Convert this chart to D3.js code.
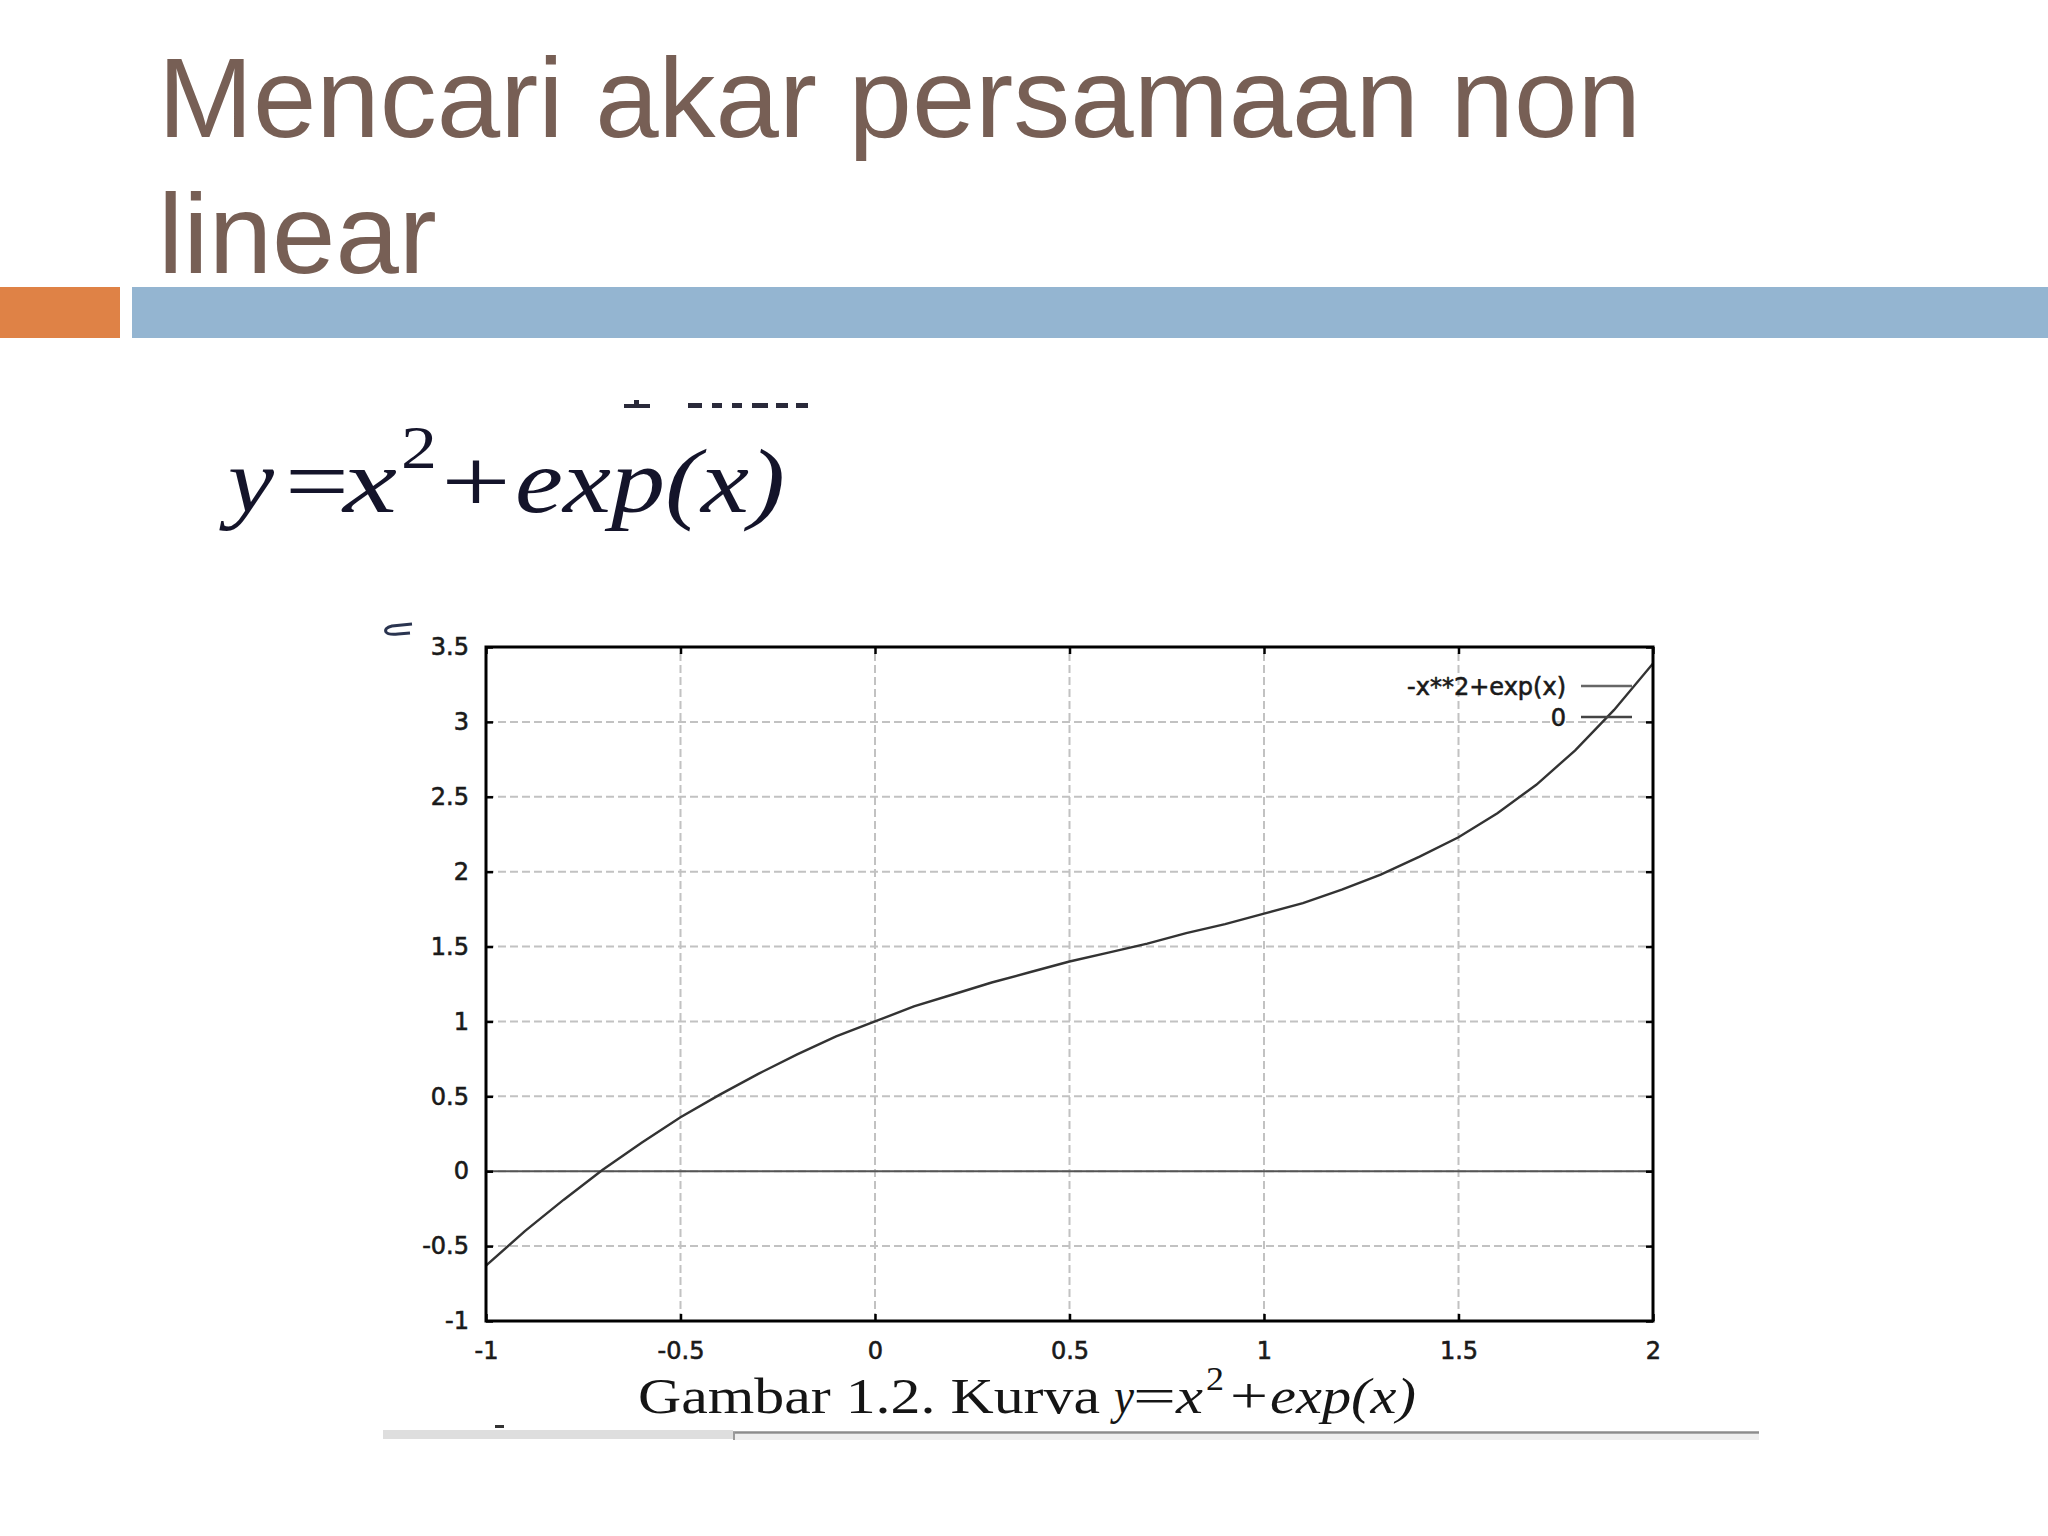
<!DOCTYPE html>
<html><head><meta charset="utf-8">
<script src="https://cdn.jsdelivr.net/npm/d3@7"></script>
<style>html,body{margin:0;padding:0;background:#fff;} svg{display:block}</style>
</head><body>
<script>
// ---------- data ----------
const titleLines = ["Mencari akar persamaan non", "linear"];
const xTicks = [-1, -0.5, 0, 0.5, 1, 1.5, 2];
const xTickLabels = ["-1", "-0.5", "0", "0.5", "1", "1.5", "2"];
const yTicks = [-1, -0.5, 0, 0.5, 1, 1.5, 2, 2.5, 3, 3.5];
const yTickLabels = ["-1", "-0.5", "0", "0.5", "1", "1.5", "2", "2.5", "3", "3.5"];
const curveX = [-1.0, -0.9, -0.8, -0.7, -0.6, -0.5, -0.4, -0.3, -0.2, -0.1, 0.0,
                0.1, 0.2, 0.3, 0.4, 0.5, 0.6, 0.7, 0.8, 0.9, 1.0,
                1.1, 1.2, 1.3, 1.4, 1.5, 1.6, 1.7, 1.8, 1.9, 2.0];
const curveY = [-0.63, -0.40, -0.19, 0.01, 0.19, 0.36, 0.51, 0.65, 0.78, 0.90, 1.00,
                1.10, 1.18, 1.26, 1.33, 1.40, 1.46, 1.52, 1.59, 1.65, 1.72,
                1.79, 1.88, 1.98, 2.10, 2.23, 2.39, 2.58, 2.81, 3.08, 3.39];
const zeroX = [-1, 2];
const zeroY = [0, 0];
const legendLabels = ["-x**2+exp(x)", "0"];
const captionLead = "Gambar 1.2. Kurva";

// ---------- svg ----------
const W = 2048, H = 1536;
const svg = d3.select("body").append("svg").attr("width", W).attr("height", H);
svg.append("rect").attr("width", W).attr("height", H).attr("fill", "#fff");

// title
const titleG = svg.append("g");
titleLines.forEach((t, i) => {
  titleG.append("text").attr("x", 158).attr("y", 137 + i * 136)
    .attr("font-family", "'Liberation Sans', Arial, sans-serif")
    .attr("font-size", 114).attr("fill", "#775F55").text(t);
});
// bars
svg.append("rect").attr("x", 0).attr("y", 287).attr("width", 120).attr("height", 51).attr("fill", "#DF8246");
svg.append("rect").attr("x", 132).attr("y", 287).attr("width", W - 132).attr("height", 51).attr("fill", "#94B5D1");

// helper for math pieces
function piece(g, str, x, y, w, size, italic, color) {
  return g.append("text").attr("x", x).attr("y", y)
    .attr("font-family", "'Liberation Serif', 'Times New Roman', serif")
    .attr("font-size", size).attr("font-style", italic ? "italic" : "normal")
    .attr("fill", color || "#14142a")
    .attr("textLength", w).attr("lengthAdjust", "spacingAndGlyphs").text(str);
}

// cut-off text remnants above formula
const rem = svg.append("g").attr("fill", "#2a2a3a");
rem.append("rect").attr("x", 624).attr("y", 404).attr("width", 26).attr("height", 4);
rem.append("rect").attr("x", 634).attr("y", 400).attr("width", 5).attr("height", 5);
[[688, 14], [712, 10], [732, 10], [752, 16], [776, 12], [796, 12]].forEach(([x, w]) =>
  rem.append("rect").attr("x", x).attr("y", 403).attr("width", w).attr("height", 5));

// top formula  y = x^2 + exp(x)
const f = svg.append("g");
piece(f, "y", 228, 512, 46, 90, true);
piece(f, "=", 285, 512, 64, 90, false);
piece(f, "x", 343, 512, 54, 90, true);
piece(f, "2", 401, 468, 36, 62, false);
piece(f, "+", 441, 512, 70, 90, false);
piece(f, "exp(x)", 515, 512, 270, 90, true);

// ---------- chart ----------
const x = d3.scaleLinear().domain([-1, 2]).range([486, 1653]);
const y = d3.scaleLinear().domain([-1, 3.5]).range([1321, 647]);

const grid = svg.append("g").attr("stroke", "#c2c2c2").attr("stroke-width", 2).attr("stroke-dasharray", "8,4");
xTicks.slice(1, -1).forEach(v => grid.append("line").attr("x1", x(v)).attr("x2", x(v)).attr("y1", y(-1)).attr("y2", y(3.5)));
yTicks.slice(1, -1).forEach(v => grid.append("line").attr("y1", y(v)).attr("y2", y(v)).attr("x1", x(-1)).attr("x2", x(2)));

// zero series
const line = d3.line().x(d => x(d[0])).y(d => y(d[1]));
svg.append("path").datum(zeroX.map((v, i) => [v, zeroY[i]])).attr("d", line)
  .attr("fill", "none").attr("stroke", "#555").attr("stroke-width", 2);

// clip + curve
svg.append("clipPath").attr("id", "plotclip").append("rect")
  .attr("x", x(-1)).attr("y", y(3.5)).attr("width", x(2) - x(-1)).attr("height", y(-1) - y(3.5));
svg.append("path").datum(curveX.map((v, i) => [v, curveY[i]])).attr("d", line)
  .attr("clip-path", "url(#plotclip)")
  .attr("fill", "none").attr("stroke", "#333").attr("stroke-width", 2.4);

// axes
const fontAxis = "'DejaVu Sans', Verdana, sans-serif";
function styleAxis(g) {
  g.select(".domain").remove();
  g.selectAll(".tick line").attr("stroke", "#000").attr("stroke-width", 2.5);
  g.selectAll(".tick text").attr("font-family", fontAxis).attr("font-size", 24).attr("fill", "#1a1a1a")
    .attr("stroke", "#1a1a1a").attr("stroke-width", 0.6);
}
svg.append("g").attr("transform", `translate(0,${y(-1)})`)
  .call(d3.axisBottom(x).tickValues(xTicks).tickFormat((d, i) => xTickLabels[i]).tickSizeInner(-7).tickSizeOuter(0).tickPadding(21))
  .call(styleAxis);
svg.append("g").attr("transform", `translate(0,${y(3.5)})`)
  .call(d3.axisTop(x).tickValues(xTicks).tickFormat("").tickSizeInner(-7).tickSizeOuter(0))
  .call(styleAxis);
svg.append("g").attr("transform", `translate(${x(-1)},0)`)
  .call(d3.axisLeft(y).tickValues(yTicks).tickFormat((d, i) => yTickLabels[i]).tickSizeInner(-7).tickSizeOuter(0).tickPadding(17))
  .call(styleAxis);
svg.append("g").attr("transform", `translate(${x(2)},0)`)
  .call(d3.axisRight(y).tickValues(yTicks).tickFormat("").tickSizeInner(-7).tickSizeOuter(0))
  .call(styleAxis);

// frame
svg.append("rect").attr("x", x(-1)).attr("y", y(3.5)).attr("width", x(2) - x(-1)).attr("height", y(-1) - y(3.5))
  .attr("fill", "none").attr("stroke", "#000").attr("stroke-width", 3);

// legend
const lg = svg.append("g");
const legendColors = ["#666", "#444"];
legendLabels.forEach((t, i) => {
  const cy = 686 + i * 31;
  lg.append("text").attr("x", 1566).attr("y", cy + 9).attr("text-anchor", "end")
    .attr("font-family", fontAxis).attr("font-size", 24).attr("fill", "#1a1a1a")
    .attr("stroke", "#1a1a1a").attr("stroke-width", 0.6).text(t);
  lg.append("line").attr("x1", 1581).attr("x2", 1632).attr("y1", cy).attr("y2", cy)
    .attr("stroke", legendColors[i]).attr("stroke-width", 2.4);
});

// little glyph remnant at top-left of chart
svg.append("path").attr("d", "M412,624 L392,626 Q384,628 386,632 Q388,635 398,634 L410,633")
  .attr("fill", "none").attr("stroke", "#2a3450").attr("stroke-width", 3);

// caption
const cap = svg.append("g");
piece(cap, captionLead, 638, 1413, 462, 50, false, "#151515");
piece(cap, "y", 1114, 1413, 20, 50, true, "#151515");
piece(cap, "=", 1133, 1413, 43, 50, false, "#151515");
piece(cap, "x", 1176, 1413, 27, 50, true, "#151515");
piece(cap, "2", 1206, 1390, 18, 33, false, "#151515");
piece(cap, "+", 1230, 1413, 38, 50, false, "#151515");
piece(cap, "exp(x)", 1270, 1413, 146, 50, true, "#151515");

// bottom rule
svg.append("rect").attr("x", 383).attr("y", 1430).attr("width", 350).attr("height", 9).attr("fill", "#dedede");
svg.append("rect").attr("x", 733).attr("y", 1434).attr("width", 1026).attr("height", 6).attr("fill", "#eeeeee");
svg.append("line").attr("x1", 733).attr("x2", 1759).attr("y1", 1432.5).attr("y2", 1432.5).attr("stroke", "#8c8c8c").attr("stroke-width", 2.5);
svg.append("line").attr("x1", 734).attr("x2", 734).attr("y1", 1432).attr("y2", 1440).attr("stroke", "#9a9a9a").attr("stroke-width", 2);
svg.append("rect").attr("x", 495).attr("y", 1425).attr("width", 9).attr("height", 3).attr("fill", "#333");
</script>
</body></html>
